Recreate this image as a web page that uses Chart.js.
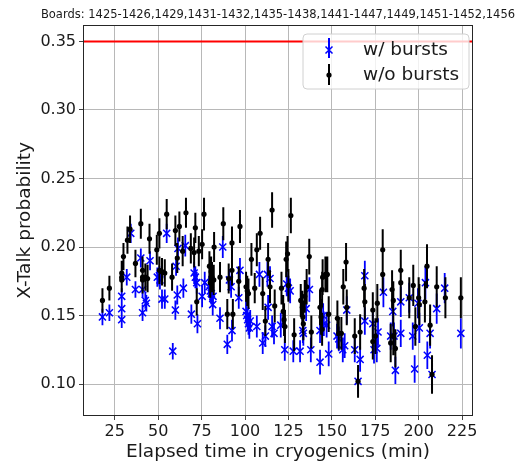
<!DOCTYPE html>
<html><head><meta charset="utf-8">
<script src="https://cdn.jsdelivr.net/npm/chart.js@4.4.1/dist/chart.umd.min.js"></script>
<style>html,body{margin:0;padding:0;background:#fff;}canvas{display:block;}</style>
</head><body>
<canvas id="c" width="529" height="471"></canvas>
<script>
const titleText = "Boards: 1425-1426,1429,1431-1432,1435-1438,1441-1447,1449,1451-1452,1456";
const xLabel = "Elapsed time in cryogenics (min)";
const yLabel = "X-Talk probability";
const seriesNames = ["w/ bursts", "w/o bursts"];
const xTicks = [25, 50, 75, 100, 125, 150, 175, 200, 225];
const yTicks = [0.10, 0.15, 0.20, 0.25, 0.30, 0.35];
const xRange = [6.7, 231.3];
const yRange = [0.0767, 0.362];
const redLevel = 0.35;

// w/ bursts (blue x)
const blueX = [17.9,21.9,29.0,29.0,29.0,31.9,34.2,36.9,40.0,41.0,41.0,42.6,43.2,45.3,49.5,50.7,51.0,52.2,53.8,54.9,
 58.4,59.9,60.3,61.0,61.4,64.5,65.6,69.1,70.7,71.4,72.2,72.6,75.3,76.8,79.3,80.0,80.6,81.4,81.6,85.6,
 87.2,89.8,91.0,92.0,92.5,96.4,97.1,100.6,101.0,101.5,102.0,102.5,103.0,106.8,108.3,110.2,111.7,112.9,113.3,114.4,
 115.6,116.7,120.6,122.9,124.0,125.0,126.0,127.8,131.7,133.3,133.6,135.2,137.1,137.9,143.2,143.2,145.0,145.4,147.0,148.2,
 153.0,154.0,156.3,157.4,158.6,163.2,165.1,166.3,169.0,169.0,173.6,174.3,175.9,176.6,179.7,183.9,185.1,185.8,186.6,189.7,
 189.7,194.6,196.6,197.7,199.6,200.4,203.9,205.0,206.6,207.7,210.4,215.0,224.3];
const blueY = [0.149,0.152,0.164,0.155,0.147,0.178,0.210,0.169,0.192,0.169,0.152,0.161,0.159,0.190,0.178,0.179,0.176,0.162,0.162,0.210,
 0.124,0.154,0.186,0.165,0.199,0.170,0.201,0.151,0.181,0.178,0.174,0.144,0.164,0.174,0.171,0.168,0.166,0.158,0.164,0.148,
 0.200,0.129,0.176,0.171,0.139,0.163,0.183,0.153,0.150,0.147,0.144,0.141,0.146,0.142,0.180,0.130,0.135,0.180,0.156,0.177,
 0.142,0.137,0.143,0.125,0.173,0.170,0.168,0.124,0.124,0.139,0.137,0.155,0.169,0.125,0.139,0.116,0.150,0.144,0.143,0.122,
 0.135,0.133,0.125,0.128,0.154,0.125,0.102,0.118,0.179,0.146,0.144,0.125,0.126,0.138,0.167,0.135,0.153,0.135,0.110,0.160,
 0.137,0.163,0.135,0.111,0.159,0.141,0.174,0.121,0.137,0.107,0.155,0.170,0.137];
const blueErr = [0.006,0.006,0.006,0.006,0.006,0.006,0.007,0.006,0.007,0.006,0.006,0.006,0.006,0.007,0.007,0.007,0.007,0.007,0.007,0.007,
 0.006,0.007,0.007,0.007,0.008,0.007,0.008,0.007,0.008,0.008,0.008,0.007,0.008,0.008,0.008,0.008,0.008,0.008,0.008,0.008,
 0.008,0.007,0.008,0.008,0.008,0.008,0.009,0.008,0.008,0.008,0.008,0.008,0.008,0.008,0.009,0.008,0.008,0.009,0.009,0.009,
 0.008,0.008,0.009,0.008,0.009,0.009,0.009,0.008,0.008,0.009,0.009,0.009,0.009,0.009,0.009,0.009,0.009,0.009,0.009,0.009,
 0.009,0.009,0.009,0.009,0.010,0.009,0.009,0.009,0.011,0.010,0.010,0.010,0.010,0.010,0.011,0.010,0.011,0.010,0.010,0.011,
 0.010,0.011,0.010,0.010,0.011,0.011,0.012,0.010,0.011,0.010,0.011,0.011,0.011];

// w/o bursts (black dots)
const blackX = [17.9,21.9,29.0,29.0,29.0,30.0,32.3,33.8,36.9,40.0,41.0,41.0,41.0,42.6,43.9,45.0,49.2,50.7,50.7,52.2,
 53.8,54.9,58.0,59.9,61.0,62.2,64.1,66.0,68.8,70.7,71.4,72.2,73.4,75.3,76.4,79.5,80.0,80.5,81.0,82.0,
 82.2,85.6,87.5,89.8,90.6,92.5,92.5,93.0,96.4,97.1,100.6,101.3,102.0,103.7,105.6,106.8,108.7,110.2,111.7,113.3,
 114.4,115.6,117.1,121.0,122.0,122.5,123.0,123.7,124.5,125.0,126.4,128.3,132.1,133.0,133.3,133.6,134.4,135.5,137.0,138.2,
 143.2,143.8,144.4,144.4,144.7,146.3,147.4,148.2,153.2,154.0,155.5,156.6,158.2,158.6,163.2,165.1,166.3,168.6,169.0,173.6,
 173.6,175.1,176.2,179.3,179.3,183.9,184.7,185.4,185.4,186.6,189.7,189.7,194.6,196.9,198.1,200.0,200.4,203.6,204.8,206.6,
 207.7,210.4,215.4,224.3];
const blackY = [0.161,0.170,0.181,0.178,0.176,0.193,0.205,0.213,0.188,0.217,0.183,0.178,0.176,0.178,0.177,0.206,0.198,0.210,0.183,0.182,
 0.181,0.224,0.178,0.212,0.192,0.215,0.197,0.225,0.199,0.196,0.214,0.160,0.197,0.202,0.224,0.186,0.174,0.182,0.178,0.176,
 0.200,0.178,0.217,0.151,0.177,0.203,0.183,0.151,0.175,0.215,0.171,0.168,0.166,0.191,0.170,0.198,0.210,0.166,0.146,0.191,
 0.171,0.227,0.157,0.170,0.153,0.147,0.142,0.191,0.195,0.172,0.223,0.136,0.161,0.156,0.149,0.144,0.164,0.171,0.193,0.138,
 0.156,0.149,0.140,0.169,0.178,0.180,0.180,0.151,0.148,0.137,0.137,0.171,0.189,0.156,0.135,0.102,0.138,0.170,0.160,0.154,
 0.131,0.135,0.159,0.198,0.180,0.130,0.169,0.161,0.135,0.126,0.183,0.174,0.163,0.172,0.142,0.163,0.158,0.160,0.186,0.143,
 0.107,0.171,0.163,0.163];
const blackErr = [0.009,0.009,0.009,0.009,0.009,0.010,0.010,0.010,0.010,0.011,0.010,0.010,0.010,0.010,0.010,0.011,0.011,0.011,0.010,0.010,
 0.010,0.011,0.010,0.011,0.011,0.011,0.011,0.011,0.011,0.011,0.011,0.010,0.011,0.011,0.012,0.011,0.011,0.011,0.011,0.011,
 0.011,0.011,0.012,0.011,0.011,0.012,0.011,0.011,0.011,0.012,0.011,0.011,0.011,0.012,0.011,0.012,0.012,0.012,0.011,0.012,
 0.012,0.013,0.012,0.012,0.012,0.012,0.012,0.013,0.013,0.012,0.013,0.012,0.012,0.012,0.012,0.012,0.012,0.013,0.013,0.012,
 0.013,0.013,0.012,0.013,0.013,0.013,0.013,0.013,0.013,0.012,0.012,0.013,0.014,0.013,0.013,0.012,0.013,0.014,0.013,0.013,
 0.013,0.013,0.014,0.015,0.014,0.014,0.014,0.014,0.014,0.014,0.015,0.015,0.015,0.015,0.014,0.015,0.015,0.015,0.016,0.015,
 0.014,0.015,0.015,0.015];

const FONT = "'DejaVu Sans', sans-serif";
Chart.defaults.font.family = FONT;
Chart.defaults.color = '#1a1a1a';

const toPts = (xs, ys) => xs.map((x, i) => ({x: x, y: ys[i]}));

const errorBars = {
  id: 'errorBars',
  beforeDatasetDraw(chart, args) {
    const ds = chart.data.datasets[args.index];
    if (!ds.errors) return;
    const ctx = chart.ctx, xs = chart.scales.x, ys = chart.scales.y, ca = chart.chartArea;
    ctx.save();
    ctx.beginPath(); ctx.rect(ca.left, ca.top, ca.right - ca.left, ca.bottom - ca.top); ctx.clip();
    ctx.strokeStyle = ds.errColor; ctx.lineWidth = ds.errWidth;
    ctx.beginPath();
    ds.data.forEach((p, i) => {
      const px = xs.getPixelForValue(p.x);
      ctx.moveTo(px, ys.getPixelForValue(p.y - ds.errors[i]));
      ctx.lineTo(px, ys.getPixelForValue(p.y + ds.errors[i]));
    });
    ctx.stroke();
    ctx.restore();
  }
};

const decor = {
  id: 'decor',
  afterDatasetsDraw(chart) {
    const ctx = chart.ctx, ca = chart.chartArea;
    ctx.save();
    ctx.strokeStyle = '#262626'; ctx.lineWidth = 1;
    ctx.strokeRect(Math.round(ca.left) + 0.5, Math.round(ca.top) + 0.5, Math.round(ca.right - ca.left) - 1, Math.round(ca.bottom - ca.top) - 1);
    ctx.restore();
  },
  afterDraw(chart) {
    const ctx = chart.ctx, ca = chart.chartArea;
    ctx.save();
    // title
    ctx.fillStyle = '#1a1a1a';
    ctx.font = "11.5px " + FONT;
    ctx.textAlign = 'center'; ctx.textBaseline = 'alphabetic';
    ctx.fillText(titleText, (ca.left + ca.right) / 2, 18);
    // legend
    const bx = 303, by = 34, bw = 166, bh = 55, r = 4;
    ctx.beginPath();
    ctx.moveTo(bx + r, by); ctx.lineTo(bx + bw - r, by); ctx.quadraticCurveTo(bx + bw, by, bx + bw, by + r);
    ctx.lineTo(bx + bw, by + bh - r); ctx.quadraticCurveTo(bx + bw, by + bh, bx + bw - r, by + bh);
    ctx.lineTo(bx + r, by + bh); ctx.quadraticCurveTo(bx, by + bh, bx, by + bh - r);
    ctx.lineTo(bx, by + r); ctx.quadraticCurveTo(bx, by, bx + r, by);
    ctx.closePath();
    ctx.fillStyle = 'rgba(255,255,255,0.8)'; ctx.fill();
    ctx.strokeStyle = '#d0d0d0'; ctx.lineWidth = 1; ctx.stroke();
    const ix = 329;
    // blue entry
    ctx.strokeStyle = '#0000ff'; ctx.lineWidth = 2;
    ctx.beginPath(); ctx.moveTo(ix, 38); ctx.lineTo(ix, 58); ctx.stroke();
    ctx.lineWidth = 1.5;
    ctx.beginPath(); ctx.moveTo(ix - 3.5, 46.5); ctx.lineTo(ix + 3.5, 53.5); ctx.moveTo(ix + 3.5, 46.5); ctx.lineTo(ix - 3.5, 53.5); ctx.stroke();
    // black entry
    ctx.strokeStyle = '#000'; ctx.lineWidth = 2;
    ctx.beginPath(); ctx.moveTo(ix, 64); ctx.lineTo(ix, 85); ctx.stroke();
    ctx.fillStyle = '#000'; ctx.beginPath(); ctx.arc(ix, 75, 2.6, 0, Math.PI * 2); ctx.fill();
    ctx.fillStyle = '#1a1a1a';
    ctx.font = "18.5px " + FONT; ctx.textAlign = 'left'; ctx.textBaseline = 'middle';
    ctx.fillText(seriesNames[0], 363, 50);
    ctx.fillText(seriesNames[1], 363, 75);
    ctx.restore();
  }
};

new Chart(document.getElementById('c'), {
  type: 'scatter',
  data: {
    datasets: [
      { type: 'line', label: 'limit', data: [{x: xRange[0], y: redLevel}, {x: xRange[1], y: redLevel}],
        borderColor: '#ff0000', borderWidth: 2, pointRadius: 0, order: 3 },
      { label: seriesNames[0], data: toPts(blueX, blueY), errors: blueErr, errColor: '#0000ff', errWidth: 1.8,
        pointStyle: 'crossRot', pointRadius: 5, borderColor: '#0000ff', backgroundColor: '#0000ff', borderWidth: 1.5, order: 2 },
      { label: seriesNames[1], data: toPts(blackX, blackY), errors: blackErr, errColor: '#000000', errWidth: 2,
        pointStyle: 'circle', pointRadius: 2.6, borderWidth: 0, borderColor: '#000', backgroundColor: '#000', order: 1 }
    ]
  },
  options: {
    responsive: false, animation: false,
    layout: { padding: { top: 25, right: 56, left: 0, bottom: 0 } },
    plugins: { legend: { display: false }, tooltip: { enabled: false }, title: { display: false } },
    scales: {
      x: {
        type: 'linear', min: xRange[0], max: xRange[1],
        afterBuildTicks: s => { s.ticks = xTicks.map(v => ({value: v})); },
        afterFit: s => { s.height = 55; },
        grid: { color: '#b8b8b8', lineWidth: 1, tickLength: 4, tickColor: '#444' },
        border: { display: false },
        ticks: { font: { size: 16 }, padding: 2, maxRotation: 0, color: '#1a1a1a' },
        title: { display: true, text: xLabel, font: { size: 18.5 }, padding: { top: 0, bottom: 8 }, color: '#1a1a1a' }
      },
      y: {
        type: 'linear', min: yRange[0], max: yRange[1],
        afterBuildTicks: s => { s.ticks = yTicks.map(v => ({value: v})); },
        afterFit: s => { s.width = 83; },
        grid: { color: '#b8b8b8', lineWidth: 1, tickLength: 4, tickColor: '#444' },
        border: { display: false },
        ticks: { font: { size: 16 }, padding: 3, color: '#1a1a1a', callback: v => Number(v).toFixed(2) },
        title: { display: true, text: yLabel, font: { size: 18.5 }, padding: { top: 14, bottom: 0 }, color: '#1a1a1a' }
      }
    }
  },
  plugins: [errorBars, decor]
});
</script>
</body></html>
